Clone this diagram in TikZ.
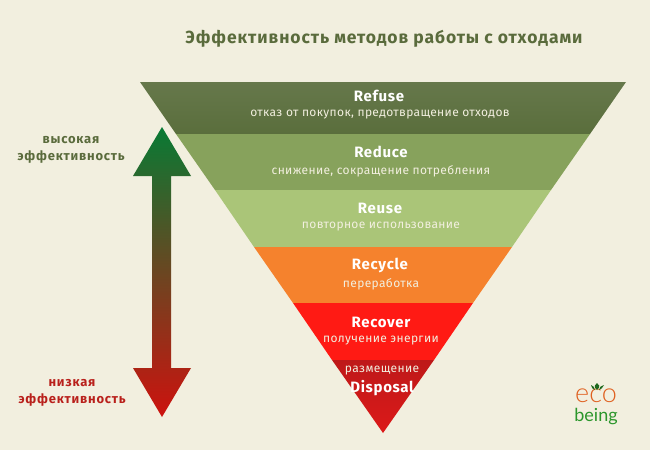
\documentclass[tikz,border=0pt]{standalone}
\usepackage{fontspec}
\setmainfont{Fira Sans}
\newfontfamily\titlefont[LetterSpace=5.3]{Fira Sans}
\newfontfamily\headfont[LetterSpace=4.5]{Fira Sans}
\newfontfamily\subfont[LetterSpace=3]{Fira Sans}
\newfontfamily\sidefont[LetterSpace=6]{Fira Sans}
\newfontfamily\ecofont{Lato Light}
\newfontfamily\beingfont{Lato}
\usepackage{xcolor}
\definecolor{paper}{HTML}{F2EFDF}
\definecolor{titlegreen}{HTML}{5A6B3C}
\definecolor{lowred}{HTML}{B9201B}
\definecolor{logoorange}{HTML}{E0601F}
\definecolor{logogreen}{HTML}{2B962B}

\begin{document}
\begin{tikzpicture}[x=1pt,y=-1pt]
\tikzset{head/.style={font=\headfont\bfseries\fontsize{15}{15}\selectfont,text=white}}
\tikzset{sub/.style={font=\subfont\fontsize{12}{12}\selectfont,text=paper}}
\tikzset{side/.style={font=\sidefont\bfseries\fontsize{13}{16.5}\selectfont,align=center}}
\tikzset{logo/.style={anchor=base,inner sep=0pt}}

\useasboundingbox (0,0) rectangle (650,450);
\fill[paper] (0,0) rectangle (650,450);

% bands of the triangle
\shade[top color={rgb,255:red,102;green,120;blue,75}, bottom color={rgb,255:red,90;green,110;blue,60}] (140,82) -- (626,82) -- (590,134) -- (176,134) -- cycle;
\fill[fill={rgb,255:red,135;green,162;blue,92}] (176,134) -- (590,134) -- (551,190) -- (215,190) -- cycle;
\fill[fill={rgb,255:red,170;green,197;blue,120}] (215,190) -- (551,190) -- (512,247) -- (254,247) -- cycle;
\fill[fill={rgb,255:red,245;green,130;blue,45}] (254,247) -- (512,247) -- (473,303) -- (293,303) -- cycle;
\fill[fill={rgb,255:red,255;green,26;blue,20}] (293,303) -- (473,303) -- (434,360) -- (332,360) -- cycle;
\shade[top color={rgb,255:red,190;green,25;blue,25}, bottom color={rgb,255:red,220;green,25;blue,25}] (332,360) -- (434,360) -- (383,433) -- cycle;

% arrow
\shade[top color={rgb,255:red,8;green,122;blue,52}, middle color={rgb,255:red,105;green,82;blue,32}, bottom color={rgb,255:red,205;green,18;blue,14}]
  (162,127) -- (191,176) -- (171,176) -- (171,368) -- (191,368) -- (162,417) -- (133,368) -- (152,368) -- (152,176) -- (133,176) -- cycle;

\node[font=\titlefont\bfseries\fontsize{17.5}{17.5}\selectfont,text=titlegreen] (title) at (384,39) {Эффективность методов работы с отходами};

\node[head] (refuse) at (379,96) {Refuse};
\node[sub] (refusesub) at (380,115) {отказ от покупок, предотвращение отходов};
\node[head] (reduce) at (381,152) {Reduce};
\node[sub] (reducesub) at (381,171) {снижение, сокращение потребления};
\node[head] (reuse) at (380,208) {Reuse};
\node[sub] (reusesub) at (381,227) {повторное использование};
\node[head] (recycle) at (380,265) {Recycle};
\node[sub] (recyclesub) at (381,284) {переработка};
\node[head] (recover) at (381,322) {Recover};
\node[sub] (recoversub) at (381,341) {получение энергии};
\node[sub] (disposalsub) at (382,371) {размещение};
\node[head] (disposal) at (382,388) {Disposal};

\node[side,text=titlegreen] (high) at (71,150) {высокая\\эффективность};
\node[side,text=lowred] (low) at (72,393) {низкая\\эффективность};

% logo
\node[logo,font=\ecofont\fontsize{27}{27}\selectfont,text=logoorange] (eco) at (596,402) {eco};
\node[logo,font=\beingfont\fontsize{18}{18}\selectfont,text=logogreen] (being) at (596,421) {being};
\fill[logogreen!70!black] (597,390) .. controls (593,386) and (595,385) .. (597,383) .. controls (599,385) and (601,386) .. (597,390) -- cycle;
\fill[logogreen!70!black] (595,390) .. controls (593,389) and (591,388) .. (591,385) .. controls (593,386) and (595,387) .. (595,390) -- cycle;
\fill[logogreen!70!black] (599,390) .. controls (601,389) and (603,388) .. (604,385) .. controls (601,386) and (599,387) .. (599,390) -- cycle;
\end{tikzpicture}
\end{document}
